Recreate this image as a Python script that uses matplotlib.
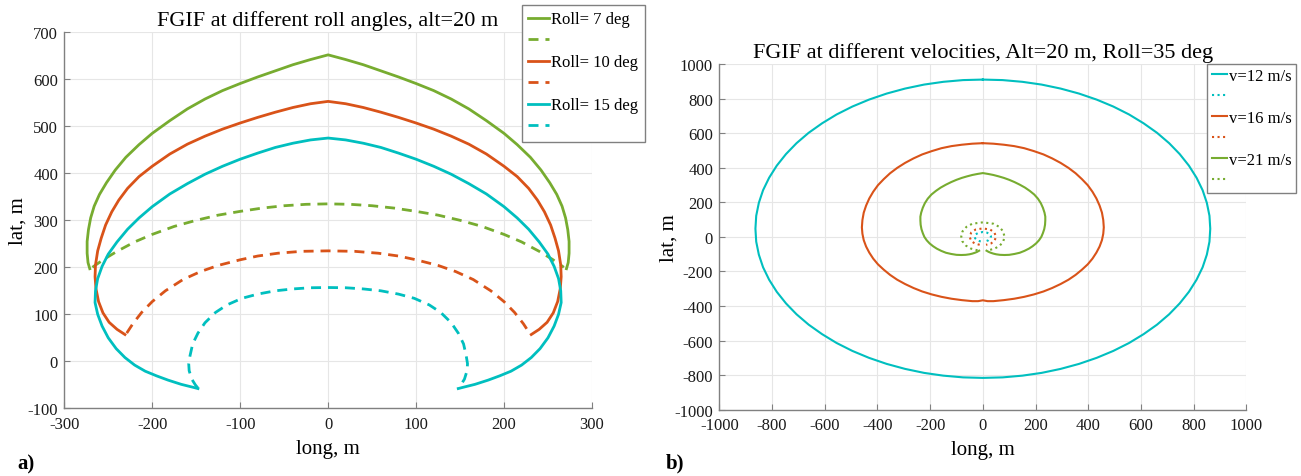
import matplotlib
matplotlib.use("Agg")
import matplotlib.pyplot as plt

plt.rcParams['font.family'] = ['Liberation Serif', 'DejaVu Serif']
plt.rcParams['axes.unicode_minus'] = False

GREEN = '#77AC30'
RED = '#D95319'
CYAN = '#00BFBF'

# ---- a) roll angle sweep, alt = 20 m ----
roll_labels = ['Roll= 7 deg', 'Roll= 10 deg', 'Roll= 15 deg']

# outer (solid) and inner (dashed) boundaries, traced left end -> apex -> right end
roll7_x = [-271, -273, -274, -274, -272.5, -270, -266, -260, -252, -242, -230, -215, -200, -180, -160,
           -140, -120, -100, -80, -60, -40, -20,
           0, 20, 40, 60, 80, 100, 120, 140, 160, 180, 200, 215, 230, 242, 252, 260, 266, 270,
           272.5, 274, 274, 273, 271]
roll7_y = [197, 210, 230, 255, 280, 305, 330, 355, 380, 407, 434, 461, 485, 512, 537,
           558, 576, 591, 605, 618, 631, 642,
           652, 642, 631, 618, 605, 591, 576, 558, 537, 512, 485, 461, 434, 407, 380, 355, 330, 305,
           280, 255, 230, 210, 197]
roll7_in_x = [-268, -265, -255, -240, -220, -200, -175, -150, -125, -100, -75, -50, -25,
              0, 25, 50, 75, 100, 125, 150, 175, 200, 220, 240, 255, 265, 268]
roll7_in_y = [200, 204, 217, 234, 254, 270, 287, 300, 311, 319, 326, 331, 334,
              335, 334, 331, 326, 319, 311, 300, 287, 270, 254, 234, 217, 204, 200]

roll10_x = [-231, -240, -249, -256, -261, -264, -265, -264.5, -262, -258, -253, -246, -238, -228, -215,
            -200, -180, -160, -140, -120, -100, -80, -60, -40, -20,
            0, 20, 40, 60, 80, 100, 120, 140, 160, 180, 200, 215, 228, 238, 246, 253, 258, 262,
            264.5, 265, 264, 261, 256, 249, 240, 231]
roll10_y = [57, 68, 83, 103, 127, 155, 180, 205, 235, 262, 290, 318, 343, 368, 393,
            415, 441, 462, 479, 494, 507, 519, 530, 540, 548,
            553, 548, 540, 530, 519, 507, 494, 479, 462, 441, 415, 393, 368, 343, 318, 290, 262, 235,
            205, 180, 155, 127, 103, 83, 68, 57]
roll10_in_x = [-229, -222, -212, -200, -185, -165, -145, -125, -100, -80, -57, -30,
               0, 30, 57, 80, 100, 125, 145, 165, 185, 200, 212, 222, 229]
roll10_in_y = [60, 80, 104, 127, 150, 174, 191, 204, 216, 224, 230, 234,
               235, 234, 230, 224, 216, 204, 191, 174, 150, 127, 104, 80, 60]

roll15_x = [-148, -152, -167, -182, -195, -208, -220, -231, -241, -250, -257, -262, -265, -264.5,
            -262, -257, -250, -240, -228, -215, -200, -180, -160, -140, -120, -100, -80, -60, -40, -20,
            0, 20, 40, 60, 80, 100, 120, 140, 160, 180, 200, 215, 228, 240, 250, 257, 262, 264.5,
            265, 262, 257, 250, 241, 231, 220, 208, 195, 182, 167, 152, 148]
roll15_y = [-58, -56, -49, -40, -31, -21, -8, 8, 27, 50, 75, 100, 125, 150,
            176, 202, 228, 254, 281, 305, 329, 356, 378, 398, 415, 430, 443, 455, 464, 471,
            475, 471, 464, 455, 443, 430, 415, 398, 378, 356, 329, 305, 281, 254, 228, 202, 176, 150,
            125, 100, 75, 50, 27, 8, -8, -21, -31, -40, -49, -56, -58]
roll15_in_x = [-148, -151, -155, -158, -158.5, -157, -154, -148, -140, -128, -115, -98, -80, -60, -40, -20,
               0, 20, 40, 60, 80, 98, 115, 128, 140, 148, 154, 157, 158.5, 158, 155, 151, 148]
roll15_in_y = [-57, -50, -38, -20, -5, 12, 37, 60, 82, 104, 120, 134, 143, 150, 154, 156.5,
               157, 156.5, 154, 150, 143, 134, 120, 104, 82, 60, 37, 12, -5, -20, -38, -50, -57]

# ---- b) velocity sweep, alt = 20 m, roll = 35 deg ----
vel_labels = ['v=12 m/s', 'v=16 m/s', 'v=21 m/s']

v12_x = [0, 75, 150, 223, 295, 365, 432, 495, 555, 610, 661, 707, 747, 782, 811, 834, 850, 860,
         863, 860, 850, 834, 811, 782, 747, 707, 661, 610, 555, 495, 432, 365, 295, 223, 150, 75,
         0, -75, -150, -223, -295, -365, -432, -495, -555, -610, -661, -707, -747, -782, -811, -834, -850, -860,
         -863, -860, -850, -834, -811, -782, -747, -707, -661, -610, -555, -495, -432, -365, -295, -223, -150, -75,
         0]
v12_y = [910, 907, 897, 881, 858, 829, 794, 754, 708, 657, 602, 542, 479, 412, 342, 270, 197, 122,
         47, -28, -103, -176, -248, -318, -385, -448, -508, -563, -614, -660, -700, -735, -764, -787, -803, -813,
         -816, -813, -803, -787, -764, -735, -700, -660, -614, -563, -508, -448, -385, -318, -248, -176, -103, -28,
         47, 122, 197, 270, 342, 412, 479, 542, 602, 657, 708, 754, 794, 829, 858, 881, 897, 907,
         910]
v12_in_x = [-8, -21, -29, -31, -27, -16, 0, 16, 27, 31, 29, 21, 8]
v12_in_y = [-27, -20, -9, 3, 15, 24, 28, 24, 15, 3, -9, -20, -27]

v16_x = [0, 40, 80, 119, 157, 194, 230, 263, 295, 325, 352, 376, 398, 416, 431, 443, 452, 457,
         459, 457, 452, 443, 431, 416, 398, 376, 352, 325, 295, 263, 230, 194, 157, 119, 80, 40, 18,
         0, -18, -40, -80, -119, -157, -194, -230, -263, -295, -325, -352, -376, -398, -416, -431, -443, -452, -457,
         -459, -457, -452, -443, -431, -416, -398, -376, -352, -325, -295, -263, -230, -194, -157, -119, -80, -40,
         0]
v16_y = [542, 539, 533, 525, 513, 496, 477, 454, 428, 399, 368, 334, 299, 261, 222, 181, 140, 97,
         55, 18, -19, -56, -91, -126, -159, -190, -220, -248, -273, -296, -316, -333, -347, -358, -366, -372, -372,
         -367, -372, -372, -366, -358, -347, -333, -316, -296, -273, -248, -220, -190, -159, -126, -91, -56, -19, 18,
         55, 97, 140, 181, 222, 261, 299, 334, 368, 399, 428, 454, 477, 496, 513, 525, 533, 539,
         542]
v16_in_x = [-12, -30, -44, -50, -44, -28, 0, 28, 44, 50, 44, 30, 12]
v16_in_y = [-46, -39, -24, 0, 25, 42, 49, 42, 25, 0, -24, -39, -46]

v21_x = [-14, -22, -30, -40, -51, -65, -82, -100, -120, -140, -158, -175, -189, -202, -213, -222, -228,
         -233, -236, -237, -237, -234, -228, -220, -209, -195, -178, -160, -140, -120, -100, -80, -60, -40, -20,
         0, 20, 40, 60, 80, 100, 120, 140, 160, 178, 195, 209, 220, 228, 234, 237, 237, 236, 233,
         228, 222, 213, 202, 189, 175, 158, 140, 120, 100, 82, 65, 51, 40, 30, 22, 14]
v21_y = [-80, -87, -92, -97, -101, -104, -105, -104, -99, -92, -81, -68, -54, -38, -20, 0, 22,
         45, 70, 95, 117, 140, 168, 195, 221, 245, 266, 285, 302, 317, 330, 341, 350, 358, 364,
         369, 364, 358, 350, 341, 330, 317, 302, 285, 266, 245, 221, 195, 168, 140, 117, 95, 70, 45,
         22, 0, -20, -38, -54, -68, -81, -92, -99, -104, -105, -104, -101, -97, -92, -87, -80]
v21_in_x = [-20, -45, -65, -78, -82, -77, -62, -40, 0, 40, 62, 77, 82, 78, 65, 45, 20]
v21_in_y = [-78, -68, -50, -25, 2, 32, 58, 76, 84, 76, 58, 32, 2, -25, -50, -68, -78]


def style_axes(ax):
    for side in ['top', 'right']:
        ax.spines[side].set_visible(False)
    for side in ['left', 'bottom']:
        ax.spines[side].set_color('#808080')
        ax.spines[side].set_linewidth(1.0)
    ax.grid(True, color='#e6e6e6', lw=0.8)
    ax.set_axisbelow(True)
    ax.tick_params(direction='in', length=4, width=0.8, color='#808080',
                   labelcolor='#1a1a1a', labelsize=12)
    ax.tick_params(axis='x', pad=5.5)
    ax.tick_params(axis='y', pad=4.5)


fig = plt.figure(figsize=(13.01, 4.77), dpi=100)

# left panel
ax1 = fig.add_axes([0.0494, 0.1419, 0.4056, 0.7883])
lw1 = 2.0
dash = (3.6, 2.5)
h = []
h += ax1.plot(roll7_x, roll7_y, color=GREEN, lw=lw1)
h += ax1.plot(roll7_in_x, roll7_in_y, color=GREEN, lw=lw1, dashes=dash)
h += ax1.plot(roll10_x, roll10_y, color=RED, lw=lw1)
h += ax1.plot(roll10_in_x, roll10_in_y, color=RED, lw=lw1, dashes=dash)
h += ax1.plot(roll15_x, roll15_y, color=CYAN, lw=lw1)
h += ax1.plot(roll15_in_x, roll15_in_y, color=CYAN, lw=lw1, dashes=dash)
ax1.set_xlim(-300, 300)
ax1.set_ylim(-100, 700)
ax1.set_xticks(range(-300, 301, 100))
ax1.set_yticks(range(-100, 701, 100))
style_axes(ax1)
ax1.set_title('FGIF at different roll angles, alt=20 m', fontsize=16, pad=5)
ax1.set_xlabel('long, m', fontsize=15, labelpad=5)
ax1.set_ylabel('lat, m', fontsize=15, labelpad=0)
leg1 = ax1.legend(h, [roll_labels[0], ' ', roll_labels[1], ' ', roll_labels[2], ' '],
                  loc='upper left', bbox_to_anchor=(0.8668, 1.0734), borderaxespad=0,
                  fontsize=12, handlelength=1.25, handletextpad=0.1, labelspacing=0.33,
                  fancybox=False, framealpha=1, edgecolor='#808080', borderpad=0.4)
leg1.get_frame().set_linewidth(1.0)

# right panel
ax2 = fig.add_axes([0.5529, 0.1390, 0.4051, 0.7247])
lw2 = 1.5
h = []
h += ax2.plot(v12_x, v12_y, color=CYAN, lw=lw2)
h += ax2.plot(v12_in_x, v12_in_y, color=CYAN, lw=lw2, ls=':')
h += ax2.plot(v16_x, v16_y, color=RED, lw=lw2)
h += ax2.plot(v16_in_x, v16_in_y, color=RED, lw=lw2, ls=':')
h += ax2.plot(v21_x, v21_y, color=GREEN, lw=lw2)
h += ax2.plot(v21_in_x, v21_in_y, color=GREEN, lw=lw2, ls=':')
ax2.set_xlim(-1000, 1000)
ax2.set_ylim(-1000, 1000)
ax2.set_xticks(range(-1000, 1001, 200))
ax2.set_yticks(range(-1000, 1001, 200))
style_axes(ax2)
ax2.set_title('FGIF at different velocities, Alt=20 m, Roll=35 deg', fontsize=16, pad=5)
ax2.set_xlabel('long, m', fontsize=15, labelpad=5)
ax2.set_ylabel('lat, m', fontsize=15, labelpad=-3)
leg2 = ax2.legend(h, [vel_labels[0], ' ', vel_labels[1], ' ', vel_labels[2], ' '],
                  loc='upper left', bbox_to_anchor=(0.926, 1.0), borderaxespad=0,
                  fontsize=12, handlelength=0.95, handletextpad=0.1, labelspacing=0.3,
                  fancybox=False, framealpha=1, edgecolor='#808080', borderpad=0.25)
leg2.get_frame().set_linewidth(1.0)

fig.text(0.013, 0.027, 'a)', fontsize=15, fontweight='bold', va='center')
fig.text(0.512, 0.029, 'b)', fontsize=15, fontweight='bold', va='center')

fig.savefig('out.png', dpi=100)
